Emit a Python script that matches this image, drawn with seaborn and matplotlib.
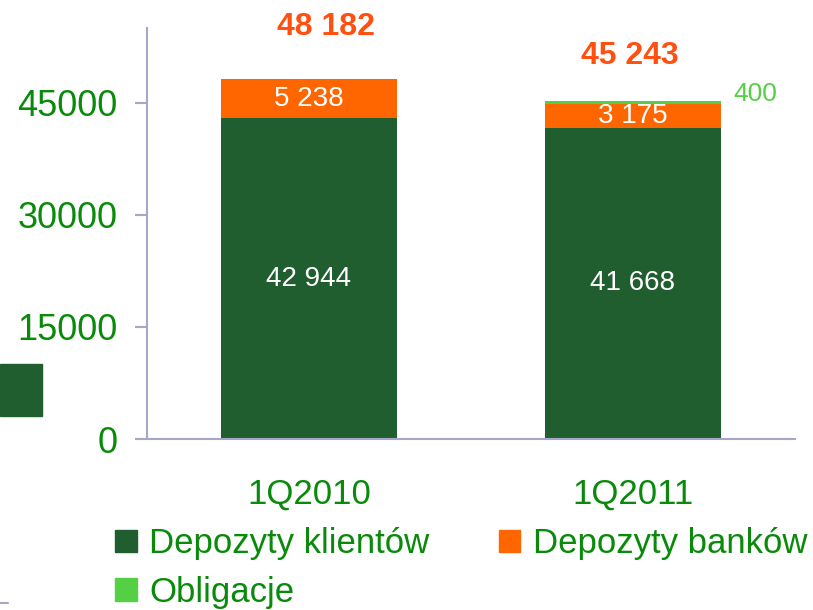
import matplotlib
matplotlib.use("Agg")
import matplotlib.pyplot as plt
import matplotlib.patches as mpatches
from matplotlib.lines import Line2D
import pandas as pd
import seaborn as sns

# values
quarters = ["1Q2010", "1Q2011"]
klienci = [42944, 41668]
banki = [5238, 3175]
obligacje = [0, 400]
totals = [48182, 45243]
klienci_lbl = ["42 944", "41 668"]
banki_lbl = ["5 238", "3 175"]
totals_lbl = ["48 182", "45 243"]
total_offset = [7000, 6050]
total_shift = [0.053, -0.01]

c_klienci = "#215E2F"
c_banki = "#FF6600"
c_oblig = "#55D044"
c_text = "#0A8A0A"
c_axis = "#A6A6C8"
c_total = "#FF5010"

sns.set_style("white")
plt.rcParams["font.family"] = ["Liberation Sans", "DejaVu Sans"]

df = pd.DataFrame({"q": quarters, "k": klienci, "b": banki, "o": obligacje})
df["kb"] = df["k"] + df["b"]
df["kbo"] = df["kb"] + df["o"]

fig = plt.figure(figsize=(8.13, 6.10), dpi=100)
ax = fig.add_axes([0.1808, 0.2803, 0.7970, 0.6737])

# stacked look by overdrawing cumulative sums
sns.barplot(data=df, x="q", y="kbo", color=c_oblig, width=0.543, saturation=1, linewidth=0, ax=ax)
sns.barplot(data=df, x="q", y="kb", color=c_banki, width=0.543, saturation=1, linewidth=0, ax=ax)
sns.barplot(data=df, x="q", y="k", color=c_klienci, width=0.543, saturation=1, linewidth=0, ax=ax)

ax.set_xlim(-0.5, 1.5)
ax.set_ylim(0, 55000)
ax.set_yticks([0, 15000, 30000, 45000])
ax.set_xlabel("")
ax.set_ylabel("")

for s in ["top", "right"]:
    ax.spines[s].set_visible(False)
for s in ["left", "bottom"]:
    ax.spines[s].set_color(c_axis)
    ax.spines[s].set_linewidth(1.5)

ax.tick_params(axis="y", colors=c_axis, length=9, width=1.5, pad=12, labelsize=26, labelcolor=c_text, direction="out", left=True)
ax.tick_params(axis="x", length=0, pad=28, labelsize=25, labelcolor=c_text)

for i in range(len(quarters)):
    ax.text(i, klienci[i] / 2, klienci_lbl[i], ha="center", va="center", color="white", fontsize=20)
    ax.text(i, klienci[i] + banki[i] / 2, banki_lbl[i], ha="center", va="center", color="white", fontsize=20)
    ax.text(i + total_shift[i], totals[i] + total_offset[i], totals_lbl[i], ha="center", va="center",
            color=c_total, fontsize=23, fontweight="bold", clip_on=False)

ax.text(1.31, 46200, "400", ha="left", va="center", color=c_oblig, fontsize=19)

handles = [mpatches.Patch(color=c_klienci), mpatches.Patch(color=c_oblig), mpatches.Patch(color=c_banki)]
labels = ["Depozyty klientów", "Obligacje", "Depozyty banków"]
fig.legend(handles, labels, loc="upper left", bbox_to_anchor=(0.142, 0.136), ncol=2, frameon=False,
           fontsize=25, labelcolor=c_text, handlelength=0.62, handleheight=0.62, handletextpad=0.35,
           columnspacing=2.0, labelspacing=0.45, borderpad=0, borderaxespad=0)

# stray pieces from the slide
fig.patches.append(mpatches.Rectangle((0, 0.318), 0.0517, 0.0852, transform=fig.transFigure, color=c_klienci))
fig.lines.append(Line2D([0, 0.01], [0.012, 0.012], transform=fig.transFigure, color=c_axis, lw=1.5))

fig.savefig("out.png", dpi=100)
